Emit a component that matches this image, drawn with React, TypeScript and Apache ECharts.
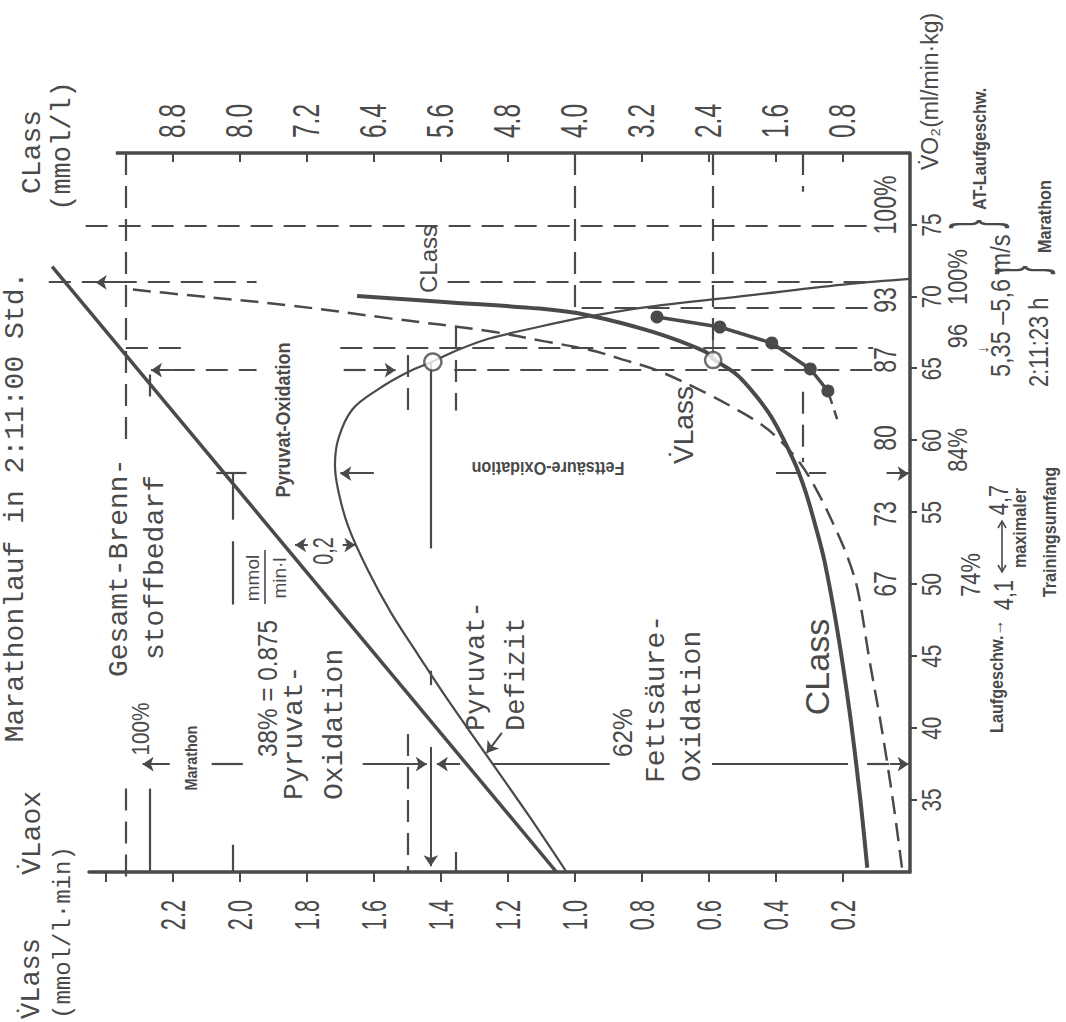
import React, { useEffect, useRef } from "react";
import * as echarts from "echarts";

// Drawing size before the quarter turn applied to the whole figure
const W = 1022;
const H = 1066;

// Axis ticks
const vo2Ticks = [35, 40, 45, 50, 55, 60, 65, 70, 75];
const vlassTicks = [0.2, 0.4, 0.6, 0.8, 1.0, 1.2, 1.4, 1.6, 1.8, 2.0, 2.2, 2.4];
const vlassLabels = [0.2, 0.4, 0.6, 0.8, 1.0, 1.2, 1.4, 1.6, 1.8, 2.0, 2.2];
const classTicks = [0.8, 1.6, 2.4, 3.2, 4.0, 4.8, 5.6, 6.4, 7.2, 8.0, 8.8];

// Total fuel demand [VO2, VLass]
const gesamtBrennstoff = [
  [30, 1.055],
  [72.1, 2.56],
];

// Pyruvate oxidation [VO2, VLass]
const pyruvatOxidation = [
  [30, 1.025], [34, 1.14], [38, 1.26], [42, 1.38], [45, 1.465], [48, 1.548],
  [51, 1.618], [54, 1.676], [56.5, 1.706], [58.3, 1.716], [60.2, 1.705],
  [62.2, 1.663], [63.6, 1.585], [64.8, 1.495], [65.5, 1.424], [66.3, 1.35],
  [67.1, 1.255], [67.9, 1.11], [68.6, 0.965], [69.3, 0.78], [70.1, 0.48],
  [70.9, 0.18], [71.25, 0.0],
];

// Steady-state lactate formation rate VLass [VO2, VLass]
const vlassKurve = [
  [30.3, 0.024], [34, 0.045], [37.6, 0.068], [41, 0.092], [44.6, 0.12],
  [49.5, 0.155], [51.5, 0.18], [53.5, 0.215], [56.4, 0.275], [58.5, 0.33],
  [60.4, 0.405], [61.3, 0.455], [62.2, 0.52], [63.2, 0.6], [64.8, 0.746],
  [65.7, 0.866], [66.3, 0.955], [66.9, 1.09], [67.6, 1.254], [68.5, 1.552],
  [69.4, 1.851], [70.1, 2.149], [70.5, 2.319],
];

// Steady-state lactate concentration CLass [VO2, CLass]
const classKurve = [
  [30.3, 0.51], [35.4, 0.6], [41.1, 0.72], [46.9, 0.87], [51.6, 1.02],
  [54.1, 1.13], [56.5, 1.25], [58.5, 1.38], [61.5, 1.64], [63.2, 1.85],
  [64.6, 2.07], [65.6, 2.33], [66.2, 2.45], [67.56, 3.07], [68.74, 3.86],
  [69.18, 4.42], [69.62, 5.52], [70.06, 6.6],
];

// Measured lactate [VO2, CLass]
const messwerte = [
  [63.45, 0.98], [64.98, 1.19], [66.79, 1.65], [67.9, 2.27], [68.6, 3.02],
];
const messwerteTrend = [
  [61.5, 0.87], [63.45, 0.98],
];

// Open markers
const pyruvatPunkt = [[65.47, 1.424]];
const classPunkt = [[65.6, 2.35]];

// Guide lines [VO2, VLass]
const hilfslinienGestrichelt = [
  [[74.9, 2.46], [74.9, 0.11]],
  [[71.0, 2.57], [71.0, 1.95]],
  [[71.0, 1.38], [71.0, 0.12]],
  [[66.4, 2.34], [66.4, 2.16]],
  [[66.4, 1.7], [66.4, 0.11]],
  [[64.9, 2.2], [64.9, 1.95]],
  [[64.9, 1.69], [64.9, 1.6]],
  [[64.9, 1.36], [64.9, 0.11]],
  [[69.2, 0.98], [69.2, 0.12]],
  [[80, 2.34], [59.9, 2.34]],
  [[35.8, 2.34], [29.6, 2.34]],
  [[65.95, 1.5], [61.5, 1.5]],
  [[39.6, 1.5], [30, 1.5]],
  [[67.9, 1.355], [62.1, 1.355]],
  [[31.4, 1.355], [30, 1.355]],
  [[57.7, 0.4], [57.7, 0.25]],
  [[37.5, 0.128], [37.5, 0.06]],
  [[64.6, 2.27], [63.0, 2.27]],
];
// Guide lines [VO2, CLass]
const hilfslinienClass = [
  [[80, 1.28], [77.3, 1.28]],
  [[63.4, 1.28], [58.5, 1.28]],
  [[80, 2.35], [65.9, 2.35]],
  [[80, 4.0], [69.1, 4.0]],
];
const hilfslinienDurchgezogen = [
  [[35.8, 2.27], [30, 2.27]],
  [[57.7, 2.02], [54.5, 2.02]],
  [[53.0, 2.02], [48.6, 2.02]],
  [[31.9, 2.02], [30, 2.02]],
  [[65.5, 1.43], [52.5, 1.43]],
  [[44.0, 1.43], [43.0, 1.43]],
  [[37.5, 2.084], [37.5, 1.991]],
  [[37.5, 1.245], [37.5, 0.896]],
  [[37.5, 0.591], [37.5, 0.185]],
  [[57.7, 2.07], [57.7, 1.98]],
];
const verbindungClass = [
  [[66.2, 2.36], [67.9, 2.36]],
];
const pfeile = [
  [[38.7, 1.43], [30.4, 1.43]],
  [[37.5, 2.209], [37.5, 2.29]],
  [[37.5, 1.633], [37.5, 1.442]],
  [[37.5, 1.343], [37.5, 1.412]],
  [[37.5, 0.06], [37.5, 0.004]],
  [[57.7, 1.6], [57.7, 1.7]],
  [[57.7, 0.07], [57.7, 0.004]],
  [[52.74, 1.797], [52.74, 1.835]],
  [[52.74, 1.693], [52.74, 1.655]],
  [[39.67, 1.218], [38.28, 1.263]],
  [[71.0, 2.36], [71.0, 2.43]],
  [[64.9, 1.6], [64.9, 1.535]],
  [[64.9, 2.2], [64.9, 2.265]],
];
// Right axis line extent [VO2, VLass]
const classAchse = [
  [80, 0],
  [80, 2.37],
];

const INK = "#4a4a4a";
const MONO = '"Liberation Mono", "DejaVu Sans Mono", monospace';
const SANS = '"Liberation Sans", "DejaVu Sans", sans-serif';

function segs(segments: number[][][], y: number, width: number, dash: any, arrow: boolean) {
  return {
    type: "lines",
    coordinateSystem: "cartesian2d",
    xAxisIndex: 0,
    yAxisIndex: y,
    clip: false,
    silent: true,
    polyline: false,
    symbol: arrow ? ["none", "arrow"] : ["none", "none"],
    symbolSize: arrow ? 11 : 0,
    lineStyle: { color: INK, width, type: dash, opacity: 1 },
    data: segments.map((c) => ({ coords: c })),
    z: 3,
  };
}

function txt(text: string, x: number, y: number, o: any = {}) {
  return {
    type: "text",
    x,
    y,
    scaleX: o.sx ?? 1,
    scaleY: o.sy ?? 1,
    rotation: o.rot ?? 0,
    silent: true,
    z: 10,
    style: {
      text,
      fill: INK,
      fontSize: o.size ?? 28,
      fontFamily: o.font ?? MONO,
      fontWeight: o.weight ?? "normal",
      align: o.align ?? "left",
      verticalAlign: "middle",
    },
  };
}

export default function App() {
  const ref = useRef<HTMLDivElement>(null);

  useEffect(() => {
    if (!ref.current) return;
    const chart = echarts.init(ref.current, null, { renderer: "svg", width: W, height: H });

    const option: any = {
      animation: false,
      backgroundColor: "#ffffff",
      grid: { left: 150, right: 153, top: 89, bottom: 156 },
      xAxis: {
        type: "value",
        min: 30,
        max: 80,
        interval: 5,
        axisLine: { show: true, lineStyle: { color: INK, width: 3.5 } },
        axisTick: { show: true, customValues: vo2Ticks, length: 7, lineStyle: { color: INK, width: 2 } },
        axisLabel: { show: false },
        splitLine: { show: false },
      },
      yAxis: [
        {
          type: "value",
          min: 0,
          max: 2.45,
          interval: 0.2,
          position: "left",
          axisLine: { show: true, lineStyle: { color: INK, width: 3.5 } },
          axisTick: { show: true, customValues: vlassTicks, length: 10, lineStyle: { color: INK, width: 2 } },
          axisLabel: { show: false },
          splitLine: { show: false },
        },
        {
          type: "value",
          min: 0,
          max: 9.8,
          interval: 0.8,
          position: "right",
          axisLine: { show: false },
          axisTick: { show: true, inside: true, customValues: classTicks, length: 9, lineStyle: { color: INK, width: 2 } },
          axisLabel: { show: false },
          splitLine: { show: false },
        },
      ],
      series: [
        {
          name: "CLass-Achse",
          type: "line",
          data: classAchse,
          symbol: "none",
          clip: false,
          lineStyle: { color: INK, width: 3.5 },
          silent: true,
        },
        {
          name: "Gesamt-Brennstoffbedarf",
          type: "line",
          data: gesamtBrennstoff,
          symbol: "none",
          clip: false,
          lineStyle: { color: INK, width: 3.5 },
          silent: true,
          z: 4,
        },
        {
          name: "Pyruvat-Oxidation",
          type: "line",
          data: pyruvatOxidation,
          symbol: "none",
          smooth: 0.35,
          lineStyle: { color: INK, width: 2.2 },
          silent: true,
          z: 4,
        },
        {
          name: "VLass",
          type: "line",
          data: vlassKurve,
          symbol: "none",
          smooth: 0.35,
          lineStyle: { color: INK, width: 2.5, type: [18, 9] },
          silent: true,
          z: 4,
        },
        {
          name: "CLass",
          type: "line",
          yAxisIndex: 1,
          data: classKurve,
          symbol: "none",
          smooth: 0.35,
          lineStyle: { color: INK, width: 4 },
          silent: true,
          z: 4,
        },
        {
          name: "Messwerte",
          type: "line",
          yAxisIndex: 1,
          data: messwerte,
          symbol: "circle",
          symbolSize: 13,
          showSymbol: true,
          itemStyle: { color: INK },
          lineStyle: { color: INK, width: 3.5 },
          silent: true,
          z: 5,
        },
        {
          name: "Messwerte-Trend",
          type: "line",
          yAxisIndex: 1,
          data: messwerteTrend,
          symbol: "none",
          lineStyle: { color: INK, width: 2.5, type: [9, 7] },
          silent: true,
          z: 4,
        },
        {
          name: "Pyruvat-Punkt",
          type: "scatter",
          data: pyruvatPunkt,
          symbol: "circle",
          symbolSize: 17,
          itemStyle: { color: "#ffffff", borderColor: INK, borderWidth: 2.5 },
          silent: true,
          z: 6,
        },
        {
          name: "CLass-Punkt",
          type: "scatter",
          yAxisIndex: 1,
          data: classPunkt,
          symbol: "circle",
          symbolSize: 16,
          itemStyle: { color: "#ffffff", borderColor: INK, borderWidth: 2.5 },
          silent: true,
          z: 6,
        },
        segs(hilfslinienGestrichelt, 0, 2.2, [22, 11], false),
        segs(hilfslinienClass, 1, 2.2, [22, 11], false),
        segs(hilfslinienDurchgezogen, 0, 2.2, "solid", false),
        segs(verbindungClass, 1, 1.6, "solid", false),
        segs(pfeile, 0, 2.0, "solid", true),
      ],
    };
    chart.setOption(option);

    const px = (v: number) => chart.convertToPixel({ xAxisIndex: 0 }, v) as number;
    const pyL = (v: number) => chart.convertToPixel({ yAxisIndex: 0 }, v) as number;
    const pyR = (v: number) => chart.convertToPixel({ yAxisIndex: 1 }, v) as number;

    const g: any[] = [];

    // tick labels
    vo2Ticks.forEach((v) => g.push(txt(String(v), px(v), 931, { font: SANS, size: 28, sx: 0.74, align: "center" })));
    vlassLabels.forEach((v) => g.push(txt(v.toFixed(1), 122, pyL(v), { font: SANS, size: 35, sx: 0.62, align: "right" })));
    classTicks.forEach((v) => g.push(txt(v.toFixed(1), 884, pyR(v), { font: SANS, size: 36, sx: 0.68, align: "left" })));

    // title and axis names
    g.push(txt("Marathonlauf in 2:11:00 Std.", 515, 15, { size: 28, align: "center" }));
    g.push(txt("CLass", 870, 32, { size: 28, align: "center" }));
    g.push(txt("(mmol/l)", 876, 63, { size: 27, align: "center" }));
    g.push(txt("V\u0307Lass", 3, 32, { size: 27 }));
    g.push(txt("V\u0307Laox", 147, 32, { size: 28 }));
    g.push(txt("(mmol/l\u00b7min)", 3, 63, { size: 24 }));
    g.push(txt("V\u0307O\u2082(ml/min\u00b7kg)", 852, 930, { font: SANS, size: 23 }));

    // percentages of VO2max above the axis
    const pct: [string, number][] = [["100%", 817], ["93", 722], ["87", 662], ["80", 584], ["73", 508], ["67", 438]];
    pct.forEach(([t, x]) => g.push(txt(t, x, 885, { font: SANS, size: 32, sx: 0.72, align: "center" })));

    // rows below the axis
    const NUM = { font: SANS, size: 28, sx: 0.78, align: "center" };
    g.push(txt("74%", 447, 970, NUM));
    g.push(txt("84%", 572, 957, NUM));
    g.push(txt("96", 686, 957, NUM));
    g.push(txt("100%", 745, 957, NUM));
    g.push(txt("\u2193", 672, 982, { font: SANS, size: 16, align: "center" }));
    g.push(txt("5,35 \u20135,6 m/s", 645, 1000, { font: SANS, size: 28, sx: 0.84 }));
    g.push(txt("2:11:23 h", 635, 1038, { font: SANS, size: 28, sx: 0.78 }));
    g.push(txt("}", 798, 974, { font: SANS, size: 56, sx: 0.5, sy: 1.15, align: "center" }));
    g.push(txt("}", 752, 1020, { font: SANS, size: 56, sx: 0.5, sy: 1.15, align: "center" }));
    const BOLD = { font: SANS, size: 18, weight: "bold", sx: 0.9 };
    g.push(txt("AT-Laufgeschw.", 812, 980, BOLD));
    g.push(txt("Marathon", 769, 1045, BOLD));
    g.push(txt("Laufgeschw.\u2192", 289, 997, BOLD));
    g.push(txt("4,1", 427, 1003, NUM));
    g.push(txt("4,7", 522, 998, NUM));
    g.push(txt("maximaler", 494, 1020, { ...BOLD, align: "center" }));
    g.push(txt("Trainingsumfang", 490, 1050, { ...BOLD, align: "center" }));
    // double arrow between 4,1 and 4,7
    g.push({ type: "polyline", silent: true, shape: { points: [[450, 1002], [501, 1002]] }, style: { stroke: INK, lineWidth: 1.6, fill: null } });
    g.push({ type: "polyline", silent: true, shape: { points: [[457, 998], [450, 1002], [457, 1006]] }, style: { stroke: INK, lineWidth: 1.6, fill: null } });
    g.push({ type: "polyline", silent: true, shape: { points: [[494, 998], [501, 1002], [494, 1006]] }, style: { stroke: INK, lineWidth: 1.6, fill: null } });

    // labels inside the plot
    g.push(txt("Gesamt-Brenn-", 345, 119, { size: 28 }));
    g.push(txt("stoffbedarf", 362, 155, { size: 28 }));
    g.push(txt("Pyruvat-Oxidation", 602, 283, { ...BOLD, size: 20, align: "center" }));
    g.push(txt("0,2", 471, 322, { font: SANS, size: 30, sx: 0.66, align: "center" }));
    g.push(txt("38% = 0.875", 265, 268, { font: SANS, size: 27, sx: 0.9 }));
    g.push(txt("mmol", 444, 252, { font: SANS, size: 19, align: "center" }));
    g.push({ type: "line", silent: true, shape: { x1: 418, y1: 265, x2: 472, y2: 265 }, style: { stroke: INK, lineWidth: 1.6 } });
    g.push(txt("min\u00b7l", 444, 279, { font: SANS, size: 19, align: "center" }));
    g.push(txt("Pyruvat-", 222, 294, { size: 28 }));
    g.push(txt("Oxidation", 222, 334, { size: 28 }));
    g.push(txt("Pyruvat-", 291, 477, { size: 27 }));
    g.push(txt("Defizit", 291, 517, { size: 27 }));
    g.push(txt("62%", 265, 623, { font: SANS, size: 27, sx: 0.9 }));
    g.push(txt("Fetts\u00e4ure-", 239, 656, { size: 28 }));
    g.push(txt("Oxidation", 240, 692, { size: 28 }));
    g.push(txt("CLass", 763, 428, { font: SANS, size: 24, align: "center" }));
    g.push(txt("V\u0307Lass", 597, 683, { font: SANS, size: 28, align: "center" }));
    g.push(txt("CLass", 355, 817, { font: SANS, size: 34, align: "center" }));
    g.push(txt("Fetts\u00e4ure-Oxidation", 554, 548, { ...BOLD, size: 18, align: "center", rot: Math.PI / 2 }));
    g.push(txt("100%", 293, 141, { font: SANS, size: 23, sx: 0.9, align: "center" }));
    g.push(txt("Marathon", 264, 191, { ...BOLD, size: 16, align: "center" }));

    chart.setOption({ graphic: g });

    return () => chart.dispose();
  }, []);

  return (
    <div
      style={{
        position: "fixed",
        left: 0,
        top: 0,
        width: 1066,
        height: 1022,
        overflow: "hidden",
        background: "#ffffff",
      }}
    >
      <div
        ref={ref}
        style={{
          position: "absolute",
          left: 0,
          top: 0,
          width: W,
          height: H,
          transformOrigin: "0 0",
          transform: "translateY(1022px) rotate(-90deg)",
        }}
      />
    </div>
  );
}
